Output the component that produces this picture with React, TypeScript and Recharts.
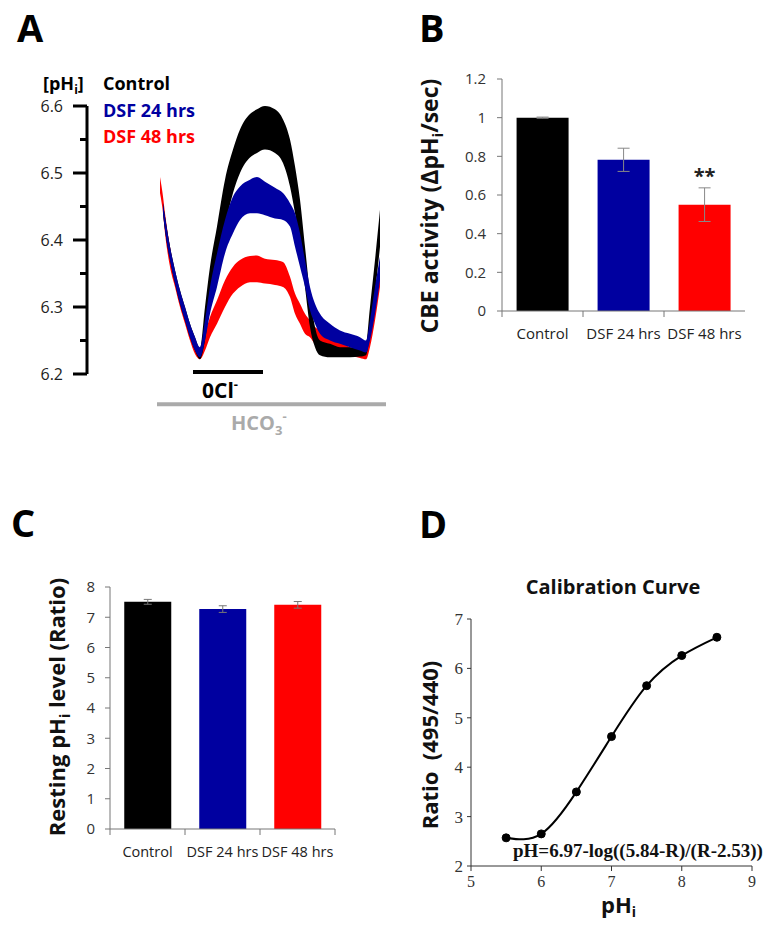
import React from 'react';
import {
  ComposedChart, Area, XAxis, YAxis, ReferenceLine,
  BarChart, Bar, ErrorBar, Cell, LabelList,
  LineChart, Line,
} from 'recharts';

const FONT = '"Open Sans", "DejaVu Sans", sans-serif';
const SERIF = '"Liberation Serif", "Times New Roman", serif';

// ---------- Panel A: pHi traces (time in s, pHi band low/high) ----------
const traceTime = [73, 76, 78, 83, 88, 93, 98, 103, 108, 113, 118, 123, 130, 138, 146, 153, 163, 170, 178, 188, 196, 203, 208, 213, 218, 223, 228, 233, 243, 253, 263, 273, 279, 283, 288, 293];
const controlLo = [null, 6.44, 6.415, 6.37, 6.335, 6.305, 6.28, 6.255, 6.235, 6.222, 6.25, 6.30, 6.36, 6.42, 6.47, 6.50, 6.523, 6.53, 6.535, 6.53, 6.515, 6.48, 6.44, 6.39, 6.33, 6.27, 6.24, 6.228, 6.225, 6.225, 6.225, 6.226, 6.228, 6.26, 6.32, 6.39];
const controlHi = [null, 6.455, 6.435, 6.39, 6.355, 6.325, 6.30, 6.275, 6.255, 6.238, 6.30, 6.36, 6.42, 6.49, 6.535, 6.565, 6.588, 6.595, 6.6, 6.595, 6.58, 6.55, 6.51, 6.46, 6.39, 6.32, 6.27, 6.25, 6.245, 6.24, 6.24, 6.24, 6.245, 6.30, 6.37, 6.445];
const dsf24Lo = [null, 6.44, 6.415, 6.37, 6.335, 6.305, 6.28, 6.255, 6.235, 6.225, 6.25, 6.29, 6.33, 6.38, 6.41, 6.43, 6.44, 6.44, 6.437, 6.432, 6.43, 6.42, 6.39, 6.36, 6.33, 6.295, 6.275, 6.26, 6.25, 6.245, 6.24, 6.235, 6.232, 6.25, 6.29, 6.34];
const dsf24Hi = [null, 6.455, 6.435, 6.39, 6.355, 6.325, 6.30, 6.275, 6.255, 6.24, 6.28, 6.33, 6.38, 6.43, 6.465, 6.48, 6.49, 6.494, 6.487, 6.478, 6.47, 6.455, 6.44, 6.41, 6.37, 6.33, 6.305, 6.29, 6.275, 6.265, 6.26, 6.255, 6.25, 6.28, 6.33, 6.375];
const dsf48Lo = [6.47, 6.44, 6.41, 6.36, 6.33, 6.30, 6.275, 6.25, 6.23, 6.222, 6.235, 6.255, 6.275, 6.30, 6.32, 6.33, 6.337, 6.337, 6.335, 6.333, 6.33, 6.315, 6.29, 6.275, 6.26, 6.255, 6.245, 6.242, 6.238, 6.232, 6.228, 6.224, 6.222, 6.24, 6.28, 6.33];
const dsf48Hi = [6.494, 6.465, 6.44, 6.39, 6.35, 6.32, 6.295, 6.27, 6.25, 6.235, 6.26, 6.285, 6.31, 6.34, 6.36, 6.37, 6.376, 6.377, 6.372, 6.37, 6.367, 6.345, 6.32, 6.305, 6.29, 6.28, 6.27, 6.265, 6.258, 6.25, 6.24, 6.235, 6.235, 6.26, 6.30, 6.36];
const phTicks = [6.2, 6.25, 6.3, 6.35, 6.4, 6.45, 6.5, 6.55, 6.6];
const zeroClPeriod = [106, 176];
const bicarbPeriod = [70, 299];

// ---------- Panels B & C: bars ----------
const groups = ['Control', 'DSF 24 hrs', 'DSF 48 hrs'];
const groupColors = ['#000000', '#0000a0', '#ff0000'];
const cbeActivity = [1.0, 0.782, 0.55];
const cbeError = [0.003, 0.06, 0.087];
const cbeSignificance = ['', '', '**'];
const cbeTicks = [0, 0.2, 0.4, 0.6, 0.8, 1.0, 1.2];
const restingRatio = [7.51, 7.27, 7.41];
const restingError = [0.08, 0.11, 0.11];
const restingTicks = [0, 1, 2, 3, 4, 5, 6, 7, 8];

// ---------- Panel D: calibration ----------
const calibPh = [5.5, 6, 6.5, 7, 7.5, 8, 8.5];
const calibRatio = [2.57, 2.65, 3.5, 4.62, 5.65, 6.26, 6.63];
const calibXTicks = [5, 6, 7, 8, 9];
const calibYTicks = [2, 3, 4, 5, 6, 7];

const traceData = traceTime.map((t, i) => ({
  t,
  control: controlLo[i] == null ? null : [controlLo[i], controlHi[i]],
  dsf24: dsf24Lo[i] == null ? null : [dsf24Lo[i], dsf24Hi[i]],
  dsf48: dsf48Lo[i] == null ? null : [dsf48Lo[i], dsf48Hi[i]],
}));
const cbeData = groups.map((name, i) => ({ name, value: cbeActivity[i], err: cbeError[i], sig: cbeSignificance[i] }));
const restingData = groups.map((name, i) => ({ name, value: restingRatio[i], err: restingError[i] }));
const calibData = calibPh.map((ph, i) => ({ ph, ratio: calibRatio[i] }));

const PhTick = (props: any) => {
  const { x, y, payload } = props;
  const v = payload.value as number;
  const major = Math.abs(v * 10 - Math.round(v * 10)) < 1e-6;
  return (
    <g>
      <line x1={x - (major ? 14 : 7)} x2={x} y1={y} y2={y} stroke="#000" strokeWidth={3} />
      {major && (
        <text x={x - 24} y={y} dy="0.35em" textAnchor="end" fontSize={16} fill="#222" fontFamily={FONT}>
          {v.toFixed(1)}
        </text>
      )}
    </g>
  );
};

const makeCatTick = (fontSize: number, tickColor: string, drawRight: boolean) => (props: any) => {
  const { x, y, payload, index, width, visibleTicksCount } = props;
  const band = width / visibleTicksCount;
  return (
    <g>
      <line x1={x - band / 2} x2={x - band / 2} y1={y} y2={y + 6} stroke={tickColor} />
      {drawRight && index === visibleTicksCount - 1 && (
        <line x1={x + band / 2} x2={x + band / 2} y1={y} y2={y + 6} stroke={tickColor} />
      )}
      <text x={x} y={y + 28} textAnchor="middle" fontSize={fontSize} fill="#222" fontFamily={FONT}>
        {payload.value}
      </text>
    </g>
  );
};

const fmtNum = (v: number) => String(parseFloat(v.toFixed(1)));

export default function App() {
  return (
    <div style={{ position: 'absolute', left: 0, top: 0, width: 779, height: 925, background: '#fff', overflow: 'hidden' }}>
      {/* Panel A */}
      <div style={{ position: 'absolute', left: 0, top: 0 }}>
        <ComposedChart width={400} height={450} data={traceData} margin={{ top: 106, right: 13, bottom: 76, left: 0 }}>
          <XAxis type="number" dataKey="t" domain={[0, 300]} hide />
          <YAxis
            type="number"
            domain={[6.2, 6.6]}
            ticks={phTicks}
            interval={0}
            width={87}
            allowDataOverflow
            axisLine={{ stroke: '#000', strokeWidth: 3 }}
            tickLine={false}
            tickSize={0}
            tickMargin={0}
            tick={<PhTick />}
          />
          <Area type="monotone" dataKey="dsf48" stroke="none" fill="#ff0000" fillOpacity={1} isAnimationActive={false} />
          <Area type="monotone" dataKey="control" stroke="none" fill="#000000" fillOpacity={1} isAnimationActive={false} />
          <Area type="monotone" dataKey="dsf24" stroke="none" fill="#0000a0" fillOpacity={1} isAnimationActive={false} />
          <ReferenceLine
            segment={[{ x: zeroClPeriod[0], y: 6.203 }, { x: zeroClPeriod[1], y: 6.203 }]}
            stroke="#000" strokeWidth={4} ifOverflow="visible"
          />
          <ReferenceLine
            segment={[{ x: bicarbPeriod[0], y: 6.155 }, { x: bicarbPeriod[1], y: 6.155 }]}
            stroke="#aaaaaa" strokeWidth={4} ifOverflow="visible"
          />
        </ComposedChart>
      </div>

      {/* Panel B */}
      <div style={{ position: 'absolute', left: 400, top: 0 }}>
        <BarChart width={379} height={360} data={cbeData} margin={{ top: 79, right: 34, bottom: 19, left: 0 }} barCategoryGap="18%">
          <XAxis
            dataKey="name"
            height={30}
            axisLine={{ stroke: '#777' }}
            tickLine={false}
            tickSize={0}
            tickMargin={0}
            interval={0}
            tick={makeCatTick(15, '#777', false)}
          />
          <YAxis
            type="number"
            domain={[0, 1.2]}
            ticks={cbeTicks}
            interval={0}
            width={102}
            axisLine={{ stroke: '#777' }}
            tickLine={{ stroke: '#777' }}
            tickSize={5}
            tickMargin={11}
            tickFormatter={fmtNum}
            tick={{ fontSize: 15, fill: '#333', fontFamily: FONT }}
          />
          <Bar dataKey="value" isAnimationActive={false}>
            {cbeData.map((d, i) => <Cell key={d.name} fill={groupColors[i]} />)}
            <ErrorBar dataKey="err" width={6} stroke="#888" strokeWidth={1} direction="y" />
            <LabelList dataKey="sig" position="top" offset={22} fill="#222" fontSize={20} fontWeight={700} fontFamily={FONT} />
          </Bar>
        </BarChart>
      </div>

      {/* Panel C */}
      <div style={{ position: 'absolute', left: 0, top: 470 }}>
        <BarChart width={400} height={400} data={restingData} margin={{ top: 117, right: 65, bottom: 11, left: 0 }} barCategoryGap="19%">
          <XAxis
            dataKey="name"
            height={30}
            axisLine={{ stroke: '#777' }}
            tickLine={false}
            tickSize={0}
            tickMargin={0}
            interval={0}
            tick={makeCatTick(14.5, '#777', true)}
          />
          <YAxis
            type="number"
            domain={[0, 8]}
            ticks={restingTicks}
            interval={0}
            width={110}
            axisLine={{ stroke: '#777' }}
            tickLine={{ stroke: '#777' }}
            tickSize={5}
            tickMargin={10}
            tick={{ fontSize: 15, fill: '#333', fontFamily: FONT }}
          />
          <Bar dataKey="value" isAnimationActive={false}>
            {restingData.map((d, i) => <Cell key={d.name} fill={groupColors[i]} />)}
            <ErrorBar dataKey="err" width={4} stroke="#777" strokeWidth={1} direction="y" />
          </Bar>
        </BarChart>
      </div>

      {/* Panel D */}
      <div style={{ position: 'absolute', left: 400, top: 470 }}>
        <LineChart width={379} height={455} data={calibData} margin={{ top: 149, right: 27, bottom: 29, left: 0 }}>
          <XAxis
            type="number"
            dataKey="ph"
            height={30}
            domain={[5, 9]}
            ticks={calibXTicks}
            interval={0}
            axisLine={{ stroke: '#333' }}
            tickLine={{ stroke: '#333' }}
            tickSize={5}
            tickMargin={5}
            tick={{ fontSize: 16, fill: '#333', fontFamily: SERIF }}
          />
          <YAxis
            type="number"
            domain={[2, 7]}
            ticks={calibYTicks}
            interval={0}
            width={71}
            axisLine={{ stroke: '#333' }}
            tickLine={{ stroke: '#333' }}
            tickSize={4}
            tickMargin={4}
            tick={{ fontSize: 17, fill: '#333', fontFamily: SERIF }}
          />
          <Line
            type="natural"
            dataKey="ratio"
            stroke="#000"
            strokeWidth={2}
            dot={{ r: 4, fill: '#000', stroke: '#000', strokeWidth: 1 }}
            isAnimationActive={false}
          />
        </LineChart>
      </div>

      {/* Text annotations */}
      <svg width={779} height={925} style={{ position: 'absolute', left: 0, top: 0, pointerEvents: 'none' }} fontFamily={FONT}>
        <text x={17} y={42} fontSize={38} fontWeight={700}>A</text>
        <text x={419} y={42} fontSize={38} fontWeight={700}>B</text>
        <text x={11} y={537} fontSize={38} fontWeight={700}>C</text>
        <text x={419} y={538} fontSize={38} fontWeight={700}>D</text>

        <text x={43} y={90} fontSize={18} fontWeight={700} fill="#000">
          [pH<tspan fontSize={12} dy={4}>i</tspan><tspan dy={-4}>]</tspan>
        </text>
        <text x={103} y={90} fontSize={18} fontWeight={700} fill="#000">Control</text>
        <text x={103} y={117} fontSize={18} fontWeight={700} fill="#0000a0">DSF 24 hrs</text>
        <text x={103} y={143} fontSize={18} fontWeight={700} fill="#ff0000">DSF 48 hrs</text>

        <text x={202} y={398} fontSize={21} fontWeight={700} fill="#000">
          0Cl<tspan fontSize={13} dy={-9}>-</tspan>
        </text>
        <text x={231} y={430} fontSize={20} fontWeight={700} fill="#aaaaaa">
          HCO<tspan fontSize={13} dy={5}>3</tspan><tspan fontSize={13} dy={-14}>-</tspan>
        </text>

        <text transform="translate(438,206) rotate(-90)" textAnchor="middle" fontSize={23} fontWeight={700} fill="#111">
          CBE activity (ΔpH<tspan fontSize={15} dy={5}>i</tspan><tspan dy={-5}>/sec)</tspan>
        </text>
        <text transform="translate(65,707) rotate(-90)" textAnchor="middle" fontSize={22} fontWeight={700} fill="#111">
          Resting pH<tspan fontSize={14} dy={5}>i</tspan><tspan dy={-5}> level (Ratio)</tspan>
        </text>
        <text transform="translate(438,745) rotate(-90)" textAnchor="middle" fontSize={22} fontWeight={700} fill="#111" style={{ whiteSpace: 'pre' }}>
          {'Ratio  (495/440)'}
        </text>

        <text x={613} y={594} textAnchor="middle" fontSize={20} fontWeight={700} fill="#111">Calibration Curve</text>
        <text x={601} y={913} fontSize={22} fontWeight={700} fill="#111">
          pH<tspan fontSize={14} dy={4}>i</tspan>
        </text>
        <text x={513} y={857} fontSize={19} fontWeight={700} fill="#111" fontFamily={SERIF}>
          pH=6.97-log((5.84-R)/(R-2.53))
        </text>
      </svg>
    </div>
  );
}
